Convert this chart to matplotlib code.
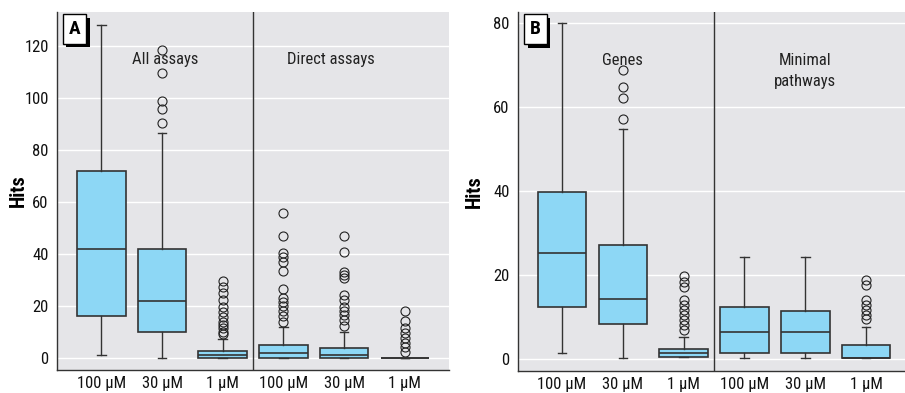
"""Two-panel box plot of hit counts at three concentrations."""

import matplotlib

matplotlib.use("Agg")
import matplotlib.patheffects as pe
import matplotlib.pyplot as plt
import matplotlib.transforms as mtransforms

BOX_FACE = "#8dd7f5"
LINE_DARK = "#333333"
PANEL_BG = "#e5e5e8"

CONC_LABELS = ["100 µM", "30 µM", "1 µM", "100 µM", "30 µM", "1 µM"]

# Panel A: all assays (1-3) and direct assays (4-6)
a_whislo = [1, 0, 0, 0, 0, 0]
a_q1 = [16, 10, 0, 0, 0, 0]
a_med = [42, 22, 1.3, 2, 1.3, 0]
a_q3 = [72, 42, 2.8, 4.9, 3.8, 0]
a_whishi = [128, 86.5, 7.2, 12, 9.9, 0]
a_fliers = [
    [],
    [90.5, 95.6, 98.6, 109.5, 118.5],
    [9.2, 10.1, 11.4, 12.7, 14, 15.9, 17.8, 19.7, 22.3, 24.9, 27.2, 29.7],
    [14, 16.2, 18.2, 20, 21.7, 23, 26.4, 33.5, 36.8, 38.7, 40.5, 46.9, 55.6],
    [12.3, 14.6, 16.5, 18.2, 19.7, 22.3, 24.2, 30.9, 31.9, 33.2, 40.9, 46.9],
    [2.2, 4.1, 5.9, 7.6, 9.5, 11.4, 14.4, 18.2],
]

# Panel B: genes (1-3) and minimal pathways (4-6)
b_whislo = [1.4, 0.3, 0.4, 0.3, 0.3, 0.3]
b_q1 = [12.3, 8.3, 0.4, 1.3, 1.3, 0.3]
b_med = [25.2, 14.3, 1.4, 6.3, 6.3, 0.3]
b_q3 = [39.8, 27.1, 2.3, 12.4, 11.3, 3.3]
b_whishi = [80, 54.8, 5.3, 24.2, 24.2, 7.5]
b_fliers = [
    [],
    [57.1, 62, 64.8, 68.7],
    [6.9, 8.1, 9.3, 10.5, 11.7, 12.9, 14, 17, 18.4, 19.8],
    [],
    [],
    [9.4, 10.5, 11.7, 12.9, 14, 17.6, 18.8],
]

plt.rcParams["font.family"] = [
    "Liberation Sans Narrow", "Roboto Condensed", "Liberation Sans", "DejaVu Sans",
]


def make_stats(whislo, q1, med, q3, whishi, fliers):
    return [
        dict(whislo=lo, q1=a, med=m, q3=b, whishi=hi, fliers=f)
        for lo, a, m, b, hi, f in zip(whislo, q1, med, q3, whishi, fliers)
    ]


def draw_panel(ax, stats, ylim, yticks, letter, groups, label_x):
    ax.set_facecolor(PANEL_BG)
    ax.bxp(
        stats,
        positions=range(1, 7),
        widths=0.8,
        capwidths=0.14,
        patch_artist=True,
        boxprops=dict(facecolor=BOX_FACE, edgecolor=LINE_DARK, linewidth=1.2),
        medianprops=dict(color=LINE_DARK, linewidth=1.2),
        whiskerprops=dict(color=LINE_DARK, linewidth=1.0),
        capprops=dict(color=LINE_DARK, linewidth=1.0),
        flierprops=dict(marker="o", markersize=6.5, markerfacecolor="none",
                        markeredgecolor="#222222", markeredgewidth=0.8),
        zorder=3,
    )
    ax.set_ylim(*ylim)
    ax.set_yticks(yticks)
    ax.set_xticks(range(1, 7))
    ax.set_xticklabels(CONC_LABELS)
    ax.yaxis.grid(True, color="white", linewidth=1.0)
    ax.set_axisbelow(True)
    ax.tick_params(axis="both", length=0, labelsize=12, colors="#111111")
    ax.tick_params(axis="y", pad=6)
    ax.tick_params(axis="x", pad=4)
    for side in ("top", "right"):
        ax.spines[side].set_visible(False)
    for side in ("left", "bottom"):
        ax.spines[side].set_color(LINE_DARK)
        ax.spines[side].set_linewidth(1.0)

    # separator between the two groups of three boxes
    ax.axvline(3.5, color=LINE_DARK, linewidth=1.0, zorder=2)

    trans = mtransforms.blended_transform_factory(ax.transData, ax.transAxes)
    for x, y, text in groups:
        ax.text(x, y, text, transform=trans, ha="center", va="center",
                fontsize=12, linespacing=1.55, color="#222222")

    ax.set_ylabel("Hits", fontsize=14.5, fontweight="bold")
    ax.yaxis.set_label_coords(label_x, 0.5)

    # panel letter in a white box with a solid drop shadow
    tag = ax.text(0.045, 0.952, letter, transform=ax.transAxes, ha="center", va="center",
                  fontsize=14, fontweight="bold", color="black",
                  bbox=dict(boxstyle="square,pad=0.3", fc="white", ec="black", lw=1.0),
                  zorder=6)
    tag.get_bbox_patch().set_path_effects([
        pe.SimplePatchShadow(offset=(2.5, -2.5), shadow_rgbFace="black", alpha=1.0),
        pe.Normal(),
    ])


fig = plt.figure(figsize=(9.05, 3.93), dpi=100, facecolor="white")
ax_a = fig.add_axes([0.063, 0.0585, 0.433, 0.911])
ax_b = fig.add_axes([0.5724, 0.056, 0.4276, 0.9135])

draw_panel(
    ax_a,
    make_stats(a_whislo, a_q1, a_med, a_q3, a_whishi, a_fliers),
    ylim=(-4.6, 133),
    yticks=[0, 20, 40, 60, 80, 100, 120],
    letter="A",
    groups=[(2.05, 0.866, "All assays"), (4.78, 0.866, "Direct assays")],
    label_x=-0.074,
)
ax_a.set_xlim(0.27, 6.725)

draw_panel(
    ax_b,
    make_stats(b_whislo, b_q1, b_med, b_q3, b_whishi, b_fliers),
    ylim=(-2.9, 82.6),
    yticks=[0, 20, 40, 60, 80],
    letter="B",
    groups=[(2.0, 0.866, "Genes"), (5.0, 0.836, "Minimal\npathways")],
    label_x=-0.088,
)
ax_b.set_xlim(0.276, 6.64)

fig.savefig("out.png", dpi=100, facecolor=fig.get_facecolor())
